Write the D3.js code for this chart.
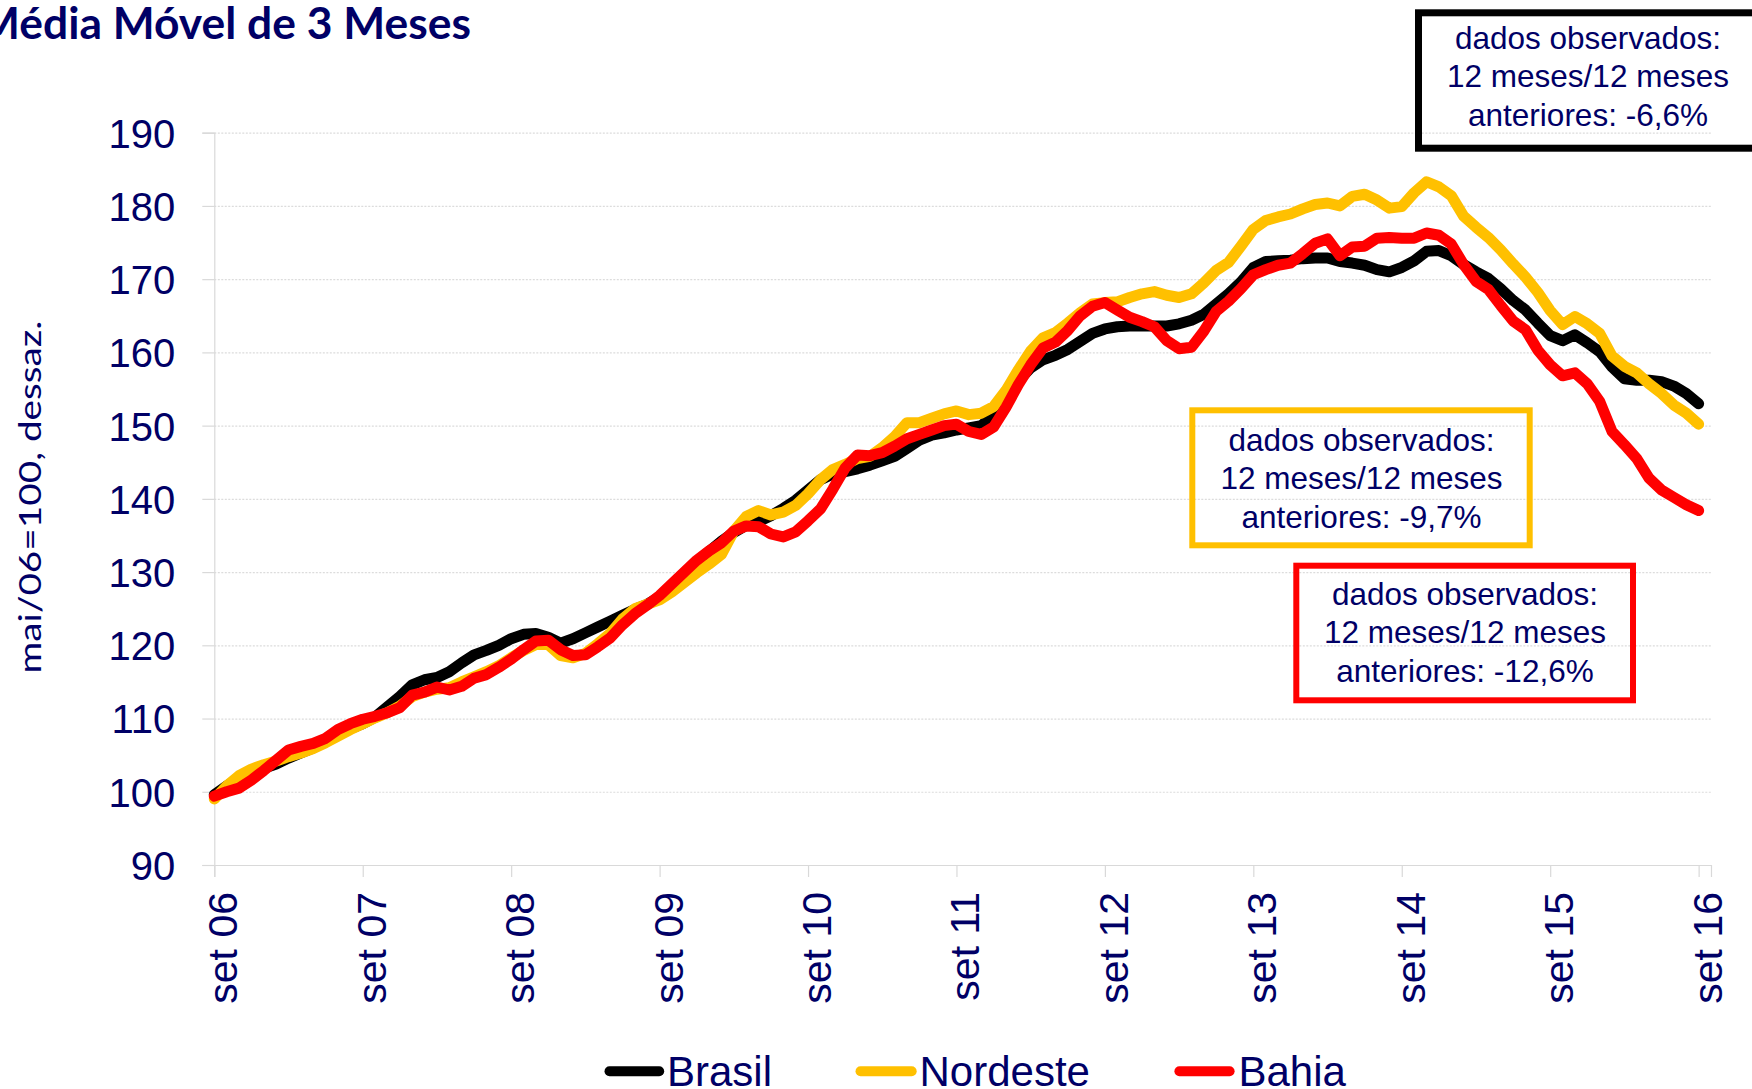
<!DOCTYPE html>
<html><head><meta charset="utf-8">
<script src="https://cdn.jsdelivr.net/npm/d3@7"></script>
<style>
html,body{margin:0;padding:0;background:#fff;}
svg{display:block;}
</style></head>
<body><svg id="chart" width="1752" height="1089"></svg>
<script>
const title = "Média Móvel de 3 Meses";
const yTitle = "mai/06=100, dessaz.";
const tickLabels = ["set 06","set 07","set 08","set 09","set 10","set 11","set 12","set 13","set 14","set 15","set 16"];
const seriesNames = ["Brasil","Nordeste","Bahia"];
const seriesColors = ["#000000","#FFC000","#FF0000"];
const brasil = [
99.6,100.8,101.8,102.5,103.2,103.8,104.6,105.3,106.0,106.9,
107.8,108.6,109.3,110.2,111.6,113.0,114.6,115.3,115.6,116.4,
117.6,118.7,119.3,120.0,120.9,121.5,121.6,121.1,120.3,120.9,
121.7,122.5,123.3,124.1,124.9,125.6,126.6,128.2,129.8,131.4,
132.8,134.2,135.4,136.4,136.9,137.7,138.7,139.8,141.2,142.6,
143.4,143.7,144.1,144.6,145.2,145.8,146.9,148.0,148.7,149.0,
149.4,149.7,150.0,151.4,154.0,156.1,157.9,159.0,159.6,160.4,
161.5,162.6,163.2,163.5,163.6,163.6,163.6,163.6,163.9,164.4,
165.2,166.6,168.0,169.6,171.6,172.4,172.5,172.6,172.8,172.9,
172.9,172.4,172.2,171.9,171.3,171.0,171.6,172.5,173.8,173.9,
173.2,172.0,171.0,170.1,168.7,167.1,165.8,164.0,162.3,161.6,
162.4,161.3,160.1,158.0,156.4,156.2,156.2,156.0,155.4,154.4,
153.0];
const nordeste = [
99.0,100.8,102.2,103.1,103.7,104.2,104.8,105.3,105.9,106.7,
107.6,108.5,109.3,110.1,110.8,111.7,113.0,113.6,114.0,114.2,
115.0,115.7,116.4,117.2,118.3,119.3,120.1,120.1,118.6,118.3,
118.9,120.2,121.6,123.6,125.0,125.6,126.2,127.3,128.6,129.9,
131.1,132.4,135.6,137.6,138.4,137.8,138.2,139.1,140.7,142.6,
144.0,144.7,145.5,145.8,147.0,148.5,150.4,150.4,151.0,151.6,
152.0,151.5,151.7,152.6,154.8,157.6,160.2,162.0,162.7,164.0,
165.4,166.6,166.8,166.9,167.5,168.0,168.3,167.8,167.5,168.0,
169.5,171.2,172.3,174.5,176.8,178.0,178.5,178.9,179.6,180.2,
180.4,180.0,181.3,181.6,180.8,179.7,179.9,181.8,183.3,182.6,
181.4,178.6,177.1,175.7,174.0,172.1,170.3,168.2,165.7,163.8,
164.9,163.9,162.6,159.5,158.1,157.2,155.7,154.4,152.8,151.7,
150.2];
const bahia = [
99.4,100.0,100.5,101.6,102.9,104.3,105.7,106.2,106.6,107.3,
108.5,109.3,109.9,110.3,110.8,111.5,113.2,113.6,114.3,113.9,
114.4,115.5,116.0,117.0,118.1,119.4,120.6,120.7,119.4,118.6,
118.7,119.8,121.0,122.8,124.3,125.5,126.8,128.4,130.0,131.6,
132.9,134.0,135.6,136.3,136.2,135.2,134.8,135.5,137.0,138.6,
141.3,144.2,146.0,145.9,146.3,147.2,148.2,148.8,149.4,150.0,
150.2,149.2,148.8,149.8,152.5,155.6,158.3,160.6,161.4,163.0,
165.0,166.3,166.8,165.8,164.8,164.2,163.5,161.6,160.5,160.7,
162.9,165.6,167.0,168.7,170.6,171.3,171.9,172.2,173.5,174.9,
175.5,173.2,174.4,174.5,175.6,175.7,175.6,175.6,176.3,176.0,
174.8,172.0,169.7,168.6,166.4,164.3,163.1,160.3,158.3,156.8,
157.2,155.7,153.3,149.2,147.4,145.5,142.8,141.2,140.2,139.2,
138.4];
const yTicks = [90,100,110,120,130,140,150,160,170,180,190];
const notes = [
  {lines:["dados observados:","12 meses/12 meses","anteriores: -6,6%"], color:"#000000"},
  {lines:["dados observados:","12 meses/12 meses","anteriores: -9,7%"], color:"#FFC000"},
  {lines:["dados observados:","12 meses/12 meses","anteriores: -12,6%"], color:"#FF0000"}
];

(function(){
const navy = "#000066";
const svg = d3.select("#chart");
svg.append("rect").attr("width",1752).attr("height",1089).attr("fill","#fff");

const pL = 214.3, pR = 1711, pT = 132.7, pB = 865;
const x = d3.scaleLinear().domain([0,121]).range([pL,pR]);
const y = d3.scaleLinear().domain([90,190]).range([pB,pT]);

// gridlines
const grid = svg.append("g").attr("transform",`translate(${pL},0)`)
  .call(d3.axisLeft(y).tickValues(yTicks).tickSize(-(pR-pL)).tickFormat(""));
grid.select(".domain").remove();
grid.selectAll("line").attr("stroke","#dcdcdc").attr("stroke-width",1.2).attr("stroke-dasharray","2,1.5");

// y axis
const yAxis = svg.append("g").attr("transform",`translate(${pL},0)`)
  .call(d3.axisLeft(y).tickValues(yTicks).tickSize(12).tickPadding(27));
yAxis.select(".domain").attr("stroke","#d9d9d9").attr("stroke-width",1.2);
yAxis.selectAll("line").attr("stroke","#d9d9d9").attr("stroke-width",1.2);
yAxis.selectAll("text").attr("fill",navy).attr("font-family","'Liberation Sans', Arial, sans-serif")
  .attr("font-size",40).attr("dy","0.36em");

// x axis
const xAxis = svg.append("g").attr("transform",`translate(0,${pB})`)
  .call(d3.axisBottom(x).tickValues(d3.range(0,121,12)).tickSize(12)
    .tickFormat((d,i)=>tickLabels[i]));
xAxis.select(".domain").attr("stroke","#d9d9d9").attr("stroke-width",1.2);
xAxis.selectAll("line").attr("stroke","#d9d9d9").attr("stroke-width",1.2);
xAxis.selectAll("text").attr("fill",navy).attr("font-family","'Liberation Sans', Arial, sans-serif")
  .attr("font-size",41).attr("y",null).attr("dy",null)
  .attr("text-anchor","end")
  .attr("transform","translate(22.5,27) rotate(-90)");

// lines
const line = d3.line().x((d,i)=>x(i)).y(d=>y(d));
const data = [brasil, nordeste, bahia];
data.forEach((s,k)=>{
  svg.append("path").datum(s).attr("d",line).attr("fill","none")
    .attr("stroke",seriesColors[k]).attr("stroke-width",11)
    .attr("stroke-linejoin","round").attr("stroke-linecap","round");
});

// title
svg.append("text").attr("x",-22).attr("y",39).text(title)
  .attr("font-family","Lato, 'Open Sans', sans-serif").attr("font-weight",700)
  .attr("font-size",44).attr("fill",navy)
  .attr("textLength",493).attr("lengthAdjust","spacingAndGlyphs");

// y title
svg.append("text").attr("transform","translate(41,497) rotate(-90)")
  .attr("text-anchor","middle").text(yTitle)
  .attr("font-family","Lato, sans-serif").attr("font-size",31).attr("fill",navy)
  .attr("textLength",353).attr("lengthAdjust","spacingAndGlyphs");

// annotation boxes
const boxes = [
  {x:1418.5,y:12.8,w:340,h:135.4,sw:7,cx:1588,base:49},
  {x:1192.3,y:410.3,w:337.4,h:135,sw:6,cx:1361.5,base:451},
  {x:1296.3,y:565.7,w:336.7,h:134.6,sw:6,cx:1465,base:605}
];
boxes.forEach((b,k)=>{
  svg.append("rect").attr("x",b.x).attr("y",b.y).attr("width",b.w).attr("height",b.h)
    .attr("fill","none").attr("stroke",notes[k].color).attr("stroke-width",b.sw);
  notes[k].lines.forEach((t,j)=>{
    svg.append("text").attr("x",b.cx).attr("y",b.base+j*38.3).attr("text-anchor","middle")
      .attr("font-family","'Liberation Sans', Arial, sans-serif").attr("font-size",31.5)
      .attr("fill",navy).text(t);
  });
});

// legend
const legendItems = [
  {x1:604.5,x2:664.2,tx:667},
  {x1:855.5,x2:916.7,tx:919.5},
  {x1:1174.4,x2:1234.6,tx:1238.5}
];
legendItems.forEach((l,k)=>{
  svg.append("line").attr("x1",l.x1+5).attr("x2",l.x2-5).attr("y1",1071.2).attr("y2",1071.2)
    .attr("stroke",seriesColors[k]).attr("stroke-width",10).attr("stroke-linecap","round");
  svg.append("text").attr("x",l.tx).attr("y",1086).text(seriesNames[k])
    .attr("font-family","'Liberation Sans', Arial, sans-serif").attr("font-size",42).attr("fill",navy);
});
})();
</script>
</body></html>
